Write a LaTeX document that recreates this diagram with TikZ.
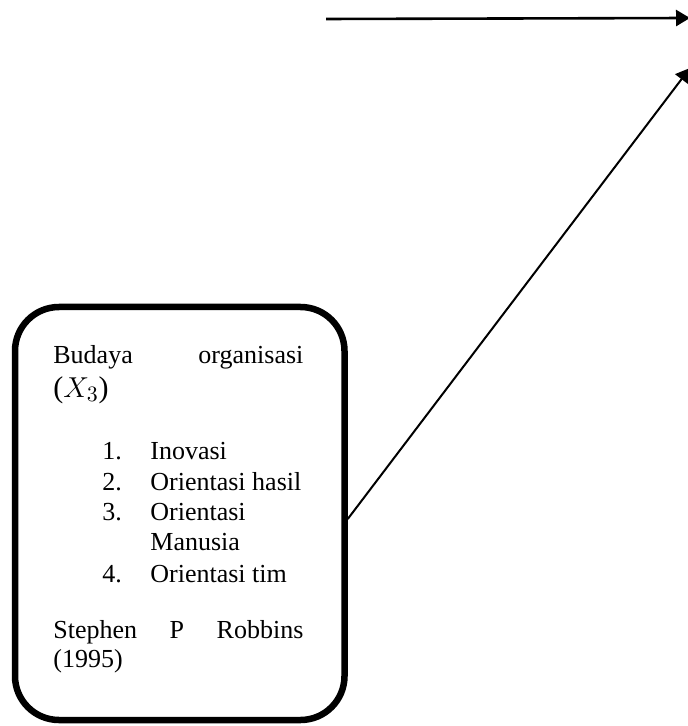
\documentclass[tikz,border=0pt]{standalone}
\usepackage{fontspec}
\setmainfont{Liberation Serif}
\usetikzlibrary{positioning, arrows.meta}

\begin{document}
\begin{tikzpicture}[x=0.5pt, y=-0.5pt, >={Triangle[length=7pt,width=8pt]},
    font=\fontsize{13pt}{15.25pt}\selectfont,
    txt/.style={anchor=base west, inner sep=0pt},
    kotak/.style={draw, line width=3.25pt, rounded corners=22pt,
      minimum width=164.75pt, minimum height=206.5pt}]
  \useasboundingbox (0,0) rectangle (688,726);
  \node[kotak] (budaya) at (179.75,513.5) {};
  \node[txt] (judul) at (53,364) {\makebox[125pt][s]{Budaya organisasi}};
  \node[txt, font=\fontsize{15pt}{17pt}\selectfont] (var) at (53,397) {($X_3$)};
  % indikator
  \node[txt] (n1) at (102,459) {1.};
  \node[txt] (i1) at (150,459) {Inovasi};
  \node[txt] (n2) at (102,490) {2.};
  \node[txt] (i2) at (150,490) {Orientasi hasil};
  \node[txt] (n3) at (102,520) {3.};
  \node[txt] (i3) at (150,520) {Orientasi};
  \node[txt] (i3b) at (150,550) {Manusia};
  \node[txt] (n4) at (102,582) {4.};
  \node[txt] (i4) at (150,582) {Orientasi tim};
  % sumber
  \node[txt] (sumber) at (53,638) {\makebox[125pt][s]{Stephen P Robbins}};
  \node[txt] (tahun) at (53,667) {(1995)};
  \coordinate (awal) at (326,19);
  \coordinate (ujung) at (690,18);
  \coordinate (ujung2) at (690,68);
  \draw[->, line width=1.3pt] (awal) -- (ujung);
  \draw[->, line width=1pt] ([yshift=-2.75pt]budaya.east) -- (ujung2);
\end{tikzpicture}
\end{document}
